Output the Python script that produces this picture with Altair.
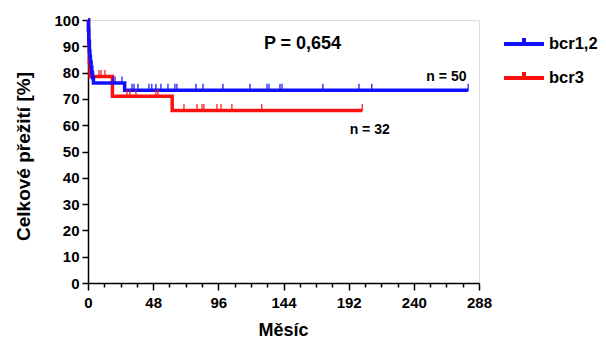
import altair as alt
import pandas as pd

# Kaplan-Meier step data (months, survival %)
blue_t = [0, 0.3, 0.6, 1.0, 1.4, 1.8, 2.3, 2.8, 3.3, 4.0, 27, 280]
blue_s = [100, 96, 92, 88, 86, 84, 82, 80, 78, 76, 73.3, 73.3]
red_t = [0, 0.5, 1.0, 1.5, 18, 62, 202]
red_s = [100, 91, 84, 78.5, 71, 65.6, 65.6]

# censored observations (months)
blue_c = [18.4, 19.9, 25, 27, 32.4, 33.9, 36.8, 44.9, 47, 50, 53.7, 58.9, 64, 65.5,
          79.5, 84.7, 99.4, 119.3, 131.8, 133.3, 141.4, 142.9, 173, 199.6, 209, 280]
red_c = [8.1, 9.6, 12.5, 28.7, 30.9, 35.3, 50, 51.5, 70.7, 80.3, 84, 85.4, 95, 98,
         106, 128, 202]

groups = ["bcr1,2", "bcr3"]
colors = ["#1010ff", "#ff1010"]

x_ticks = list(range(0, 289, 12))
y_ticks = list(range(0, 101, 10))


def level(ts, ss, t):
    v = ss[0]
    for ti, si in zip(ts, ss):
        if ti <= t:
            v = si
    return v


blue_df = pd.DataFrame({"g": groups[0], "t": blue_t, "s": blue_s})
red_df = pd.DataFrame({"g": groups[1], "t": red_t, "s": red_s})
cens = pd.DataFrame(
    [{"g": groups[0], "t": t, "s": level(blue_t, blue_s, t)} for t in blue_c]
    + [{"g": groups[1], "t": t, "s": level(red_t, red_s, t)} for t in red_c]
)

FONT = "Liberation Sans"

xs = alt.Scale(domain=[0, 288], nice=False, zero=False)
ys = alt.Scale(domain=[0, 100], nice=False)
cs = alt.Scale(domain=groups, range=colors)

x_axis = alt.Axis(
    values=x_ticks,
    labelExpr="datum.value % 48 === 0 ? datum.label : ''",
    tickSize={"condition": {"test": "datum.value % 48 === 0", "value": 7}, "value": 4},
    grid=False,
    title="Měsíc",
    titleFont=FONT, titleFontSize=18, titleFontWeight="bold",
    titleX=195, titleY=47, titleBaseline="middle", titleAlign="center",
    labelFont=FONT, labelFontSize=15, labelFontWeight="bold", labelColor="black",
    labelPadding=5, labelOverlap=False, labelFlush=False,
    domainColor="black", domainWidth=1.5, tickColor="black", tickWidth=1.5,
)
y_axis = alt.Axis(
    values=y_ticks,
    tickCount=11,
    tickSize=6,
    grid=False,
    title="Celkové přežití [%]",
    titleFont=FONT, titleFontSize=19, titleFontWeight="bold",
    titleX=-65, titleY=136, titleBaseline="middle", titleAlign="center", titleAngle=-90,
    labelFont=FONT, labelFontSize=15, labelFontWeight="bold", labelColor="black",
    labelPadding=3, labelOverlap=False, labelFlush=False,
    domainColor="black", domainWidth=1.5, tickColor="black", tickWidth=1.5,
)

legend = alt.Legend(
    orient="none", legendX=424, legendY=12, title=None, padding=0,
    symbolType="M-2,0H2M0,0V-0.6", symbolSize=400, symbolStrokeWidth=4,
    symbolOpacity=1,
    labelFont=FONT, labelFontSize=16.5, labelFontWeight="bold", labelColor="black",
    rowPadding=11, labelOffset=13,
)


def km_line(df):
    return alt.Chart(df).mark_line(interpolate="step-after", strokeWidth=3.5, opacity=1).encode(
        x=alt.X("t:Q", scale=xs, axis=x_axis),
        y=alt.Y("s:Q", scale=ys, axis=y_axis),
        color=alt.Color("g:N", scale=cs, legend=legend),
    )


ticks = alt.Chart(cens).mark_tick(orient="vertical", size=7, thickness=1.2, yOffset=-3, opacity=1).encode(
    x=alt.X("t:Q", scale=xs, axis=x_axis),
    y=alt.Y("s:Q", scale=ys, axis=y_axis),
    color=alt.Color("g:N", scale=cs, legend=legend),
)

ann_text = ["P = 0,654", "n = 50", "n = 32"]
ann_x = [158, 264, 207.5]
ann_y = [90.9, 78.2, 58.0]
ann_size = [18, 14, 14]
ann = pd.DataFrame({"txt": ann_text, "x": ann_x, "y": ann_y, "fs": ann_size})

texts = alt.Chart(ann).mark_text(font=FONT, fontWeight="bold", color="black", baseline="middle").encode(
    x=alt.X("x:Q", scale=xs, axis=x_axis),
    y=alt.Y("y:Q", scale=ys, axis=y_axis),
    text="txt:N",
    size=alt.Size("fs:Q", scale=None, legend=None),
)

chart = alt.layer(km_line(red_df), km_line(blue_df), ticks, texts).properties(
    width=391, height=263,
    autosize=alt.AutoSizeParams(type="none"),
    padding={"left": 80, "top": 12, "right": 119, "bottom": 58},
).configure_view(stroke="#555555", strokeWidth=1.5).configure(background="white")

chart.save("out.html", embed_options={"renderer": "svg", "actions": False})
